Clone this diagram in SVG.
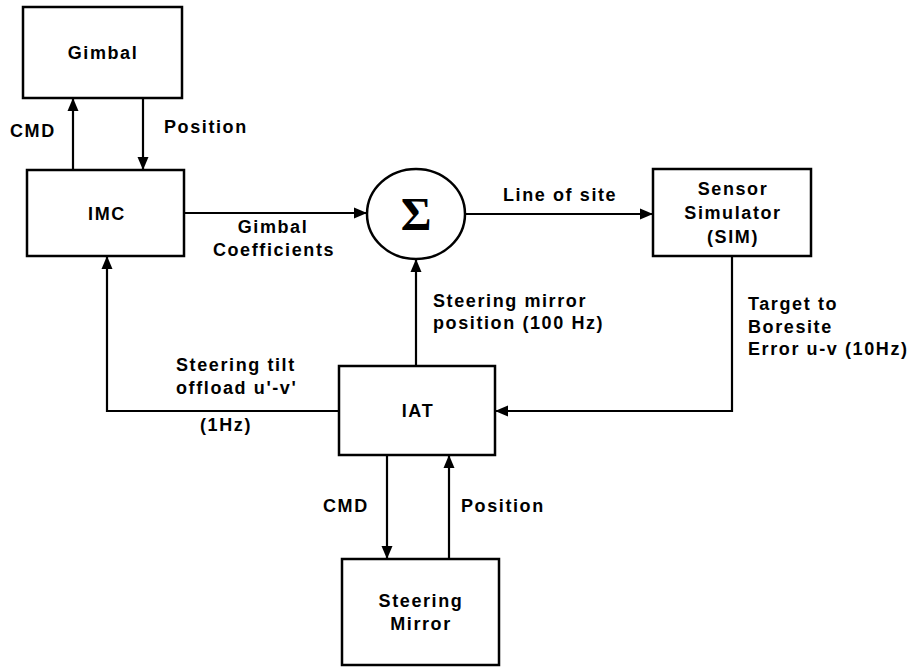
<svg xmlns="http://www.w3.org/2000/svg" width="914" height="667" viewBox="0 0 914 667">
<style>
.box{fill:#fff;stroke:#000;stroke-width:2.5}
.ln{fill:none;stroke:#000;stroke-width:2.2}
text{font-family:"Liberation Sans",Arial,sans-serif;font-weight:bold;font-size:18px;letter-spacing:1.6px;fill:#000}
.c{text-anchor:middle}
.sig{font-family:"Liberation Serif","Times New Roman",serif;font-size:47px;letter-spacing:0}
</style>
<defs>
<marker id="ah" markerWidth="13" markerHeight="13" refX="12" refY="6.5" orient="auto" markerUnits="userSpaceOnUse">
<path d="M0,1 L13,6.5 L0,12 Z" fill="#000"/>
</marker>
</defs>
<rect width="914" height="667" fill="#fff"/>
<g id="connectors">
<line class="ln" x1="73" y1="170" x2="73" y2="99" marker-end="url(#ah)"/>
<line class="ln" x1="143" y1="98" x2="143" y2="169" marker-end="url(#ah)"/>
<line class="ln" x1="184" y1="213" x2="366" y2="213" marker-end="url(#ah)"/>
<line class="ln" x1="465" y1="214" x2="652" y2="214" marker-end="url(#ah)"/>
<polyline class="ln" points="732,256 732,411 496,411" marker-end="url(#ah)"/>
<polyline class="ln" points="339,411 107,411 107,257" marker-end="url(#ah)"/>
<line class="ln" x1="416" y1="366" x2="416" y2="260" marker-end="url(#ah)"/>
<line class="ln" x1="387" y1="455" x2="387" y2="558" marker-end="url(#ah)"/>
<line class="ln" x1="449" y1="559" x2="449" y2="456" marker-end="url(#ah)"/>
<text x="10" y="137">CMD</text>
<text x="164" y="133">Position</text>
<text class="c" x="273" y="233">Gimbal</text>
<text class="c" x="274" y="256">Coefficients</text>
<text x="503" y="201">Line of site</text>
<text x="433" y="307">Steering mirror</text>
<text x="433" y="329">position (100 Hz)</text>
<text x="748" y="310">Target to</text>
<text x="748" y="333">Boresite</text>
<text x="748" y="355">Error u-v (10Hz)</text>
<text x="176" y="371">Steering tilt</text>
<text x="176" y="394">offload u'-v'</text>
<text x="200" y="431">(1Hz)</text>
<text x="323" y="512">CMD</text>
<text x="461" y="512">Position</text>
</g>
<g id="gimbal">
<rect class="box" x="23" y="7" width="159" height="91"/>
<text class="c" x="103" y="59">Gimbal</text>
</g>
<g id="imc">
<rect class="box" x="27" y="170" width="157" height="86"/>
<text class="c" x="107" y="220">IMC</text>
</g>
<g id="sum">
<ellipse class="box" cx="416" cy="214" rx="49" ry="45"/>
<text class="c sig" x="416" y="230">Σ</text>
</g>
<g id="sim">
<rect class="box" x="653" y="169" width="158" height="87"/>
<text class="c" x="733" y="195">Sensor</text>
<text class="c" x="733" y="219">Simulator</text>
<text class="c" x="733" y="243">(SIM)</text>
</g>
<g id="iat">
<rect class="box" x="339" y="366" width="156" height="89"/>
<text class="c" x="418" y="417">IAT</text>
</g>
<g id="steering-mirror">
<rect class="box" x="342" y="559" width="157" height="106"/>
<text class="c" x="421" y="607">Steering</text>
<text class="c" x="421" y="630">Mirror</text>
</g>
</svg>
